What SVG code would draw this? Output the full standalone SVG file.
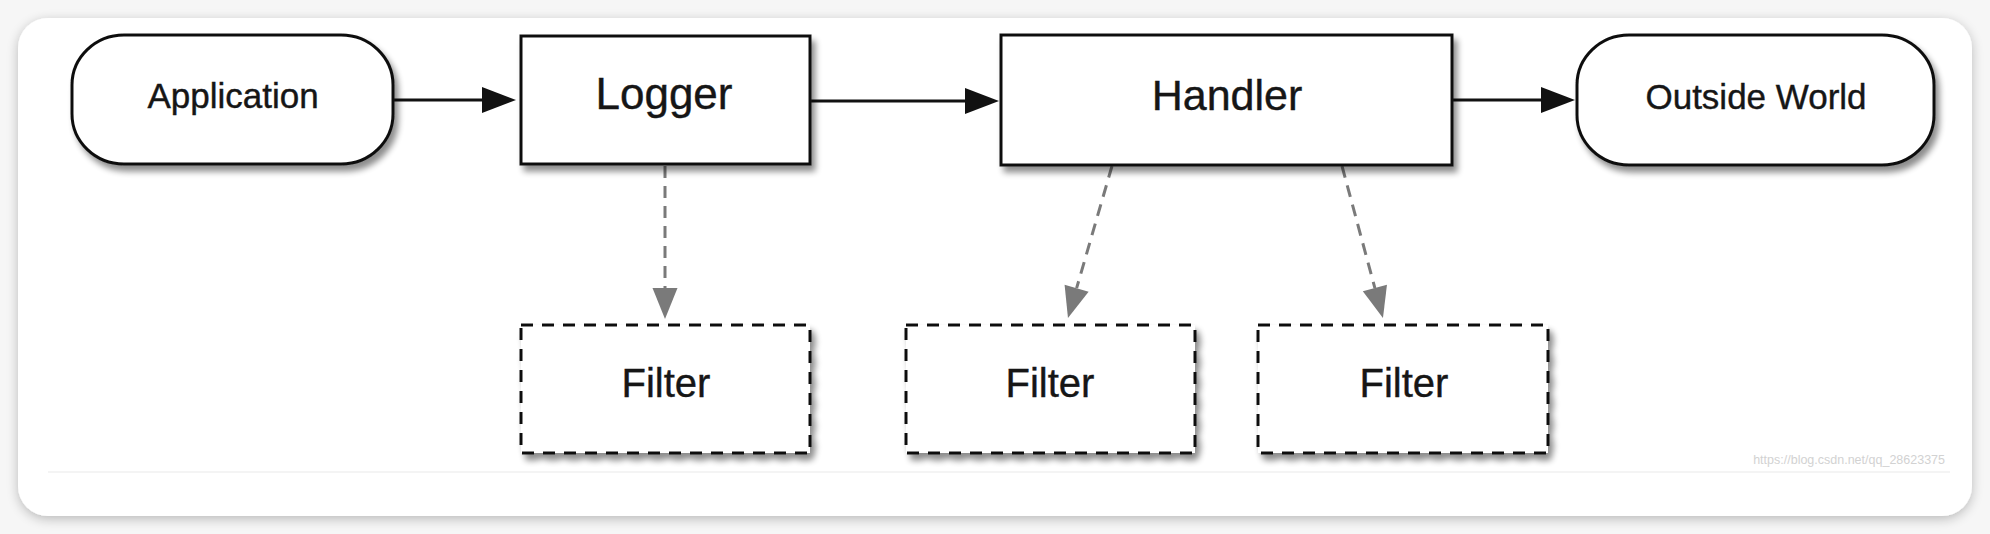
<svg xmlns="http://www.w3.org/2000/svg" width="1990" height="534" viewBox="0 0 1990 534">
<style>
.node{fill:#fff;stroke:#111;stroke-width:3}
.dash{stroke-dasharray:12 9}
.lbl{font-family:"Liberation Sans",Arial,sans-serif;fill:#161616;stroke:#161616;stroke-width:0.4;text-anchor:middle}
.flow{stroke:#111;stroke-width:3;fill:none}
.ref{stroke:#7a7a7a;stroke-width:3;fill:none;stroke-dasharray:12 8}
</style>
<defs>
<filter id="card" x="-5%" y="-10%" width="110%" height="125%">
<feGaussianBlur in="SourceAlpha" stdDeviation="6"/>
<feOffset dx="0" dy="3" result="b"/>
<feComponentTransfer><feFuncA type="linear" slope="0.25"/></feComponentTransfer>
<feMerge><feMergeNode/><feMergeNode in="SourceGraphic"/></feMerge>
</filter>
<filter id="sh" x="-10%" y="-10%" width="130%" height="140%">
<feGaussianBlur in="SourceAlpha" stdDeviation="3"/>
<feOffset dx="4" dy="6" result="b"/>
<feComponentTransfer><feFuncA type="linear" slope="0.45"/></feComponentTransfer>
<feMerge><feMergeNode/><feMergeNode in="SourceGraphic"/></feMerge>
</filter>
<marker id="ah" markerUnits="userSpaceOnUse" markerWidth="36" markerHeight="28" refX="0" refY="13" orient="auto" overflow="visible">
<path d="M0,0 L34,13 L0,26 Z" fill="#111"/>
</marker>
<marker id="gh" markerUnits="userSpaceOnUse" markerWidth="33" markerHeight="27" refX="0" refY="12.5" orient="auto" overflow="visible">
<path d="M0,0 L31,12.5 L0,25 Z" fill="#7a7a7a"/>
</marker>
</defs>
<rect width="1990" height="534" fill="#f6f6f6"/>
<rect x="18" y="18" width="1954" height="498" rx="30" fill="#fff" filter="url(#card)"/>
<line x1="48" y1="472" x2="1950" y2="472" stroke="#f4f4f4" stroke-width="2"/>
<text x="1945" y="464" font-family="Liberation Sans,Arial,sans-serif" font-size="12.5" fill="#d2d2d2" text-anchor="end">https://blog.csdn.net/qq_28623375</text>

<g id="connectors">
<line class="flow" x1="393" y1="100" x2="482" y2="100" marker-end="url(#ah)"/>
<line class="flow" x1="810" y1="101" x2="965" y2="101" marker-end="url(#ah)"/>
<line class="flow" x1="1452" y1="100" x2="1541" y2="100" marker-end="url(#ah)"/>
<line class="ref" x1="665" y1="166" x2="665" y2="288" marker-end="url(#gh)"/>
<line class="ref" x1="1112" y1="166" x2="1076.6" y2="288.2" marker-end="url(#gh)"/>
<line class="ref" x1="1342" y1="166" x2="1374.9" y2="288.1" marker-end="url(#gh)"/>
</g>

<g id="application">
<rect class="node" x="72" y="35" width="321" height="129" rx="52" ry="50" filter="url(#sh)"/>
<text class="lbl" x="233" y="108" font-size="35">Application</text>
</g>
<g id="logger">
<rect class="node" x="521" y="36" width="289" height="128" filter="url(#sh)"/>
<text class="lbl" x="664" y="109" font-size="44">Logger</text>
</g>
<g id="handler">
<rect class="node" x="1001" y="35" width="451" height="130" filter="url(#sh)"/>
<text class="lbl" x="1227" y="110" font-size="43">Handler</text>
</g>
<g id="outside-world">
<rect class="node" x="1577" y="35" width="357" height="130" rx="52" ry="50" filter="url(#sh)"/>
<text class="lbl" x="1756" y="109" font-size="35">Outside World</text>
</g>
<g id="filter-1">
<rect class="node dash" x="521" y="325" width="289" height="128" filter="url(#sh)"/>
<text class="lbl" x="666" y="397" font-size="40">Filter</text>
</g>
<g id="filter-2">
<rect class="node dash" x="906" y="325" width="289" height="128" filter="url(#sh)"/>
<text class="lbl" x="1050" y="397" font-size="40">Filter</text>
</g>
<g id="filter-3">
<rect class="node dash" x="1258" y="325" width="290" height="128" filter="url(#sh)"/>
<text class="lbl" x="1404" y="397" font-size="40">Filter</text>
</g>
</svg>
